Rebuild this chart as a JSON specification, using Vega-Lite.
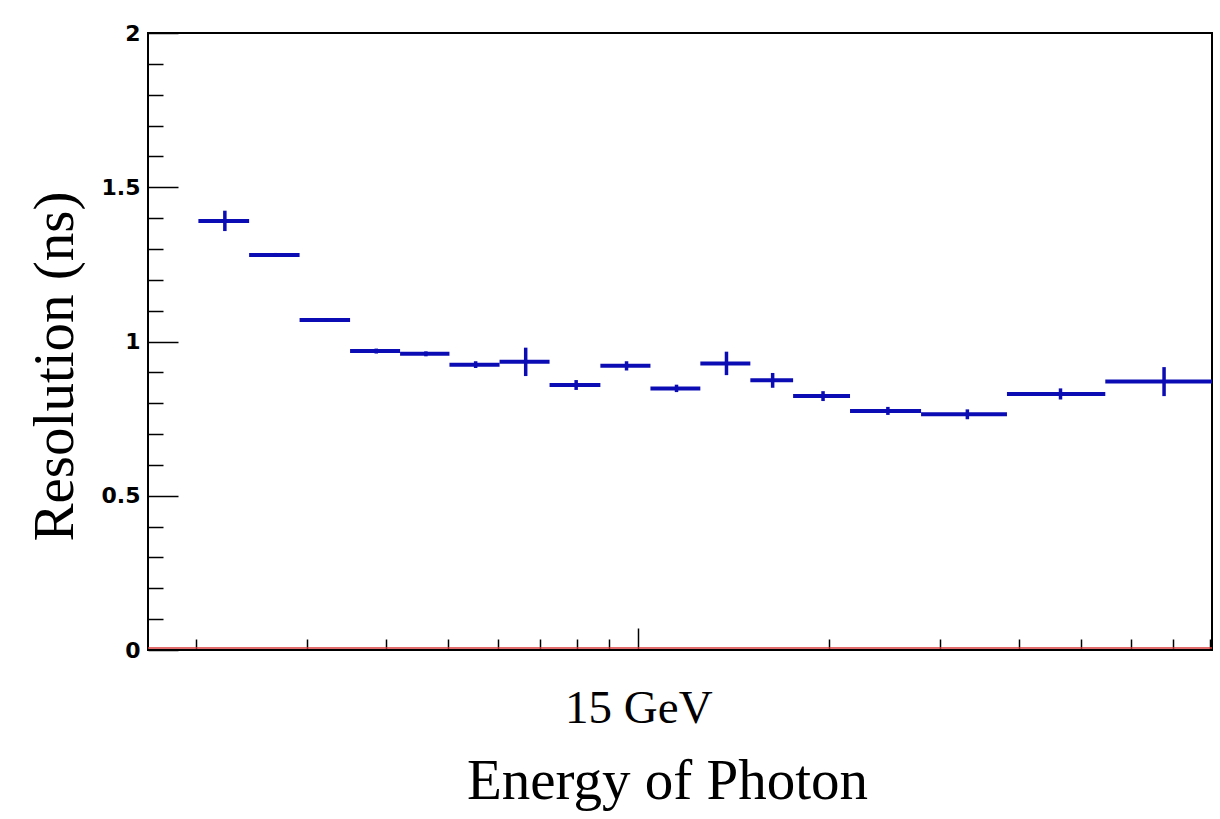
{
  "$schema": "https://vega.github.io/schema/vega-lite/v6.json",
  "width": 1064,
  "height": 617,
  "autosize": {"type": "none"},
  "padding": {"left": 148, "top": 33, "right": 8, "bottom": 169},
  "background": "#ffffff",
  "config": {
    "view": {"stroke": "#000000", "strokeWidth": 2},
    "axis": {"grid": false, "domain": false, "tickColor": "#000000", "tickWidth": 1.5, "labelColor": "#000000", "titleColor": "#000000"}
  },
  "data": {
    "values": [
      {"lo": 2.018, "hi": 2.427, "mid": 2.222, "res": 1.391, "lower": 1.358, "upper": 1.424},
      {"lo": 2.427, "hi": 2.916, "mid": 2.672, "res": 1.280, "lower": 1.274, "upper": 1.287},
      {"lo": 2.916, "hi": 3.504, "mid": 3.210, "res": 1.070, "lower": 1.065, "upper": 1.075},
      {"lo": 3.504, "hi": 4.203, "mid": 3.854, "res": 0.969, "lower": 0.961, "upper": 0.977},
      {"lo": 4.203, "hi": 5.030, "mid": 4.617, "res": 0.960, "lower": 0.952, "upper": 0.968},
      {"lo": 5.030, "hi": 6.036, "mid": 5.533, "res": 0.925, "lower": 0.914, "upper": 0.936},
      {"lo": 6.036, "hi": 7.240, "mid": 6.638, "res": 0.934, "lower": 0.888, "upper": 0.980},
      {"lo": 7.240, "hi": 8.710, "mid": 7.975, "res": 0.859, "lower": 0.843, "upper": 0.875},
      {"lo": 8.710, "hi": 10.45, "mid": 9.580, "res": 0.921, "lower": 0.906, "upper": 0.936},
      {"lo": 10.45, "hi": 12.53, "mid": 11.49, "res": 0.848, "lower": 0.836, "upper": 0.860},
      {"lo": 12.53, "hi": 15.03, "mid": 13.78, "res": 0.929, "lower": 0.891, "upper": 0.967},
      {"lo": 15.03, "hi": 17.56, "mid": 16.30, "res": 0.874, "lower": 0.850, "upper": 0.898},
      {"lo": 17.56, "hi": 21.60, "mid": 19.58, "res": 0.823, "lower": 0.807, "upper": 0.839},
      {"lo": 21.60, "hi": 27.97, "mid": 24.79, "res": 0.775, "lower": 0.762, "upper": 0.788},
      {"lo": 27.97, "hi": 38.23, "mid": 33.10, "res": 0.764, "lower": 0.748, "upper": 0.780},
      {"lo": 38.23, "hi": 54.67, "mid": 46.45, "res": 0.830, "lower": 0.812, "upper": 0.848},
      {"lo": 54.67, "hi": 80.6, "mid": 67.7, "res": 0.870, "lower": 0.823, "upper": 0.917}
    ]
  },
  "resolve": {"axis": {"x": "independent", "y": "independent"}},
  "layer": [
    {
      "mark": {"type": "rule", "color": "#0c0cb4", "strokeWidth": 4},
      "encoding": {
        "x": {
          "field": "lo", "type": "quantitative",
          "scale": {"type": "log", "domain": [1.68, 80.6], "nice": false},
          "axis": {
            "orient": "bottom", "values": [10], "labelExpr": "'15 GeV'", "ticks": false,
            "labelFont": "Liberation Serif", "labelFontSize": 47, "labelBaseline": "alphabetic",
            "labelPadding": 72, "labelFlush": false, "labelOverlap": false, "labelBound": false,
            "title": "Energy of Photon", "titleFont": "Liberation Serif", "titleFontSize": 57,
            "titleFontWeight": "normal", "titleX": 519, "titleY": 148, "titleBaseline": "alphabetic", "titleAlign": "center"
          }
        },
        "x2": {"field": "hi"},
        "y": {
          "field": "res", "type": "quantitative",
          "scale": {"domain": [0, 2], "nice": false, "zero": false},
          "axis": {
            "orient": "left", "values": [0, 0.5, 1, 1.5, 2], "format": "~g", "ticks": false,
            "labelFont": "DejaVu Sans", "labelFontWeight": "bold", "labelFontSize": 22, "labelPadding": 8,
            "title": "Resolution (ns)", "titleFont": "Liberation Serif", "titleFontSize": 57,
            "titleFontWeight": "normal", "titleAngle": -90, "titleX": -76, "titleY": 333,
            "titleBaseline": "alphabetic", "titleAlign": "center"
          }
        }
      }
    },
    {
      "mark": {"type": "rule", "color": "#0c0cb4", "strokeWidth": 3.5},
      "encoding": {
        "x": {
          "field": "mid", "type": "quantitative",
          "scale": {"type": "log", "domain": [1.68, 80.6], "nice": false},
          "axis": {"orient": "bottom", "values": [10], "labels": false, "ticks": true, "tickSize": -22, "title": null}
        },
        "y": {
          "field": "lower", "type": "quantitative",
          "scale": {"domain": [0, 2], "nice": false, "zero": false},
          "axis": {"orient": "left", "values": [0, 0.5, 1, 1.5, 2], "labels": false, "ticks": true, "tickSize": -30, "title": null}
        },
        "y2": {"field": "upper"}
      }
    },
    {
      "data": {"values": [{"line": "zero"}]},
      "mark": {"type": "rule", "color": "#d83a3a", "strokeWidth": 1.5, "yOffset": -2},
      "encoding": {
        "x": {
          "datum": 1.68, "type": "quantitative",
          "scale": {"type": "log", "domain": [1.68, 80.6], "nice": false},
          "axis": {"orient": "bottom", "values": [2, 3, 4, 5, 6, 7, 8, 9, 20, 30, 40, 50, 60, 70, 80], "labels": false, "ticks": true, "tickSize": -11, "title": null}
        },
        "x2": {"datum": 80.6},
        "y": {
          "datum": 0, "type": "quantitative",
          "scale": {"domain": [0, 2], "nice": false, "zero": false},
          "axis": {"orient": "left", "values": [0.1, 0.2, 0.3, 0.4, 0.6, 0.7, 0.8, 0.9, 1.1, 1.2, 1.3, 1.4, 1.6, 1.7, 1.8, 1.9], "labels": false, "ticks": true, "tickSize": -15, "title": null}
        }
      }
    }
  ]
}
